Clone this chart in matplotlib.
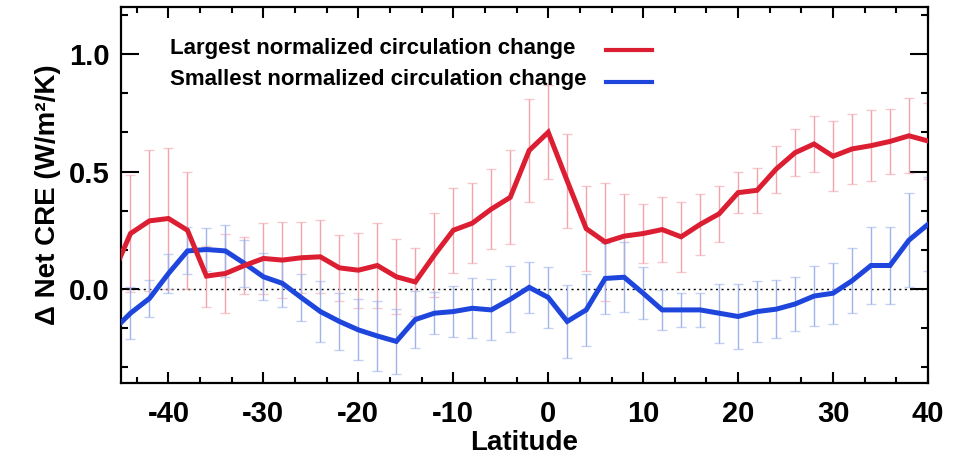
import matplotlib
matplotlib.use("Agg")
import matplotlib.pyplot as plt
from matplotlib.ticker import MultipleLocator

# latitude points (every 2 degrees, first point lies just outside the axis)
lats = list(range(-46, 41, 2))

largest = [0.05, 0.236, 0.29, 0.30, 0.25, 0.055, 0.066, 0.10, 0.13, 0.123, 0.133,
           0.137, 0.09, 0.08, 0.10, 0.052, 0.03, 0.144, 0.25, 0.28, 0.34, 0.39,
           0.59, 0.667, 0.46, 0.257, 0.20, 0.225, 0.236, 0.253, 0.222, 0.275,
           0.32, 0.41, 0.42, 0.51, 0.58, 0.617, 0.565, 0.596, 0.61, 0.628, 0.652, 0.63]
largest_err = [0.25, 0.25, 0.30, 0.30, 0.25, 0.13, 0.17, 0.12, 0.15, 0.16, 0.15,
               0.155, 0.14, 0.16, 0.18, 0.16, 0.145, 0.18, 0.18, 0.17, 0.17, 0.20,
               0.22, 0.20, 0.20, 0.18, 0.25, 0.18, 0.125, 0.14, 0.15, 0.13,
               0.12, 0.087, 0.095, 0.10, 0.10, 0.12, 0.15, 0.15, 0.15, 0.14, 0.16, 0.16]

smallest = [-0.183, -0.103, -0.04, 0.066, 0.162, 0.168, 0.162, 0.109, 0.052, 0.024, -0.037,
            -0.096, -0.138, -0.174, -0.20, -0.223, -0.13, -0.103, -0.096, -0.082, -0.089, -0.044,
            0.007, -0.036, -0.138, -0.089, 0.045, 0.05, -0.018, -0.089, -0.089, -0.089,
            -0.103, -0.117, -0.096, -0.086, -0.064, -0.03, -0.018, 0.035, 0.10, 0.10, 0.208, 0.275]
smallest_err = [0.11, 0.11, 0.08, 0.085, 0.10, 0.09, 0.11, 0.10, 0.10, 0.10, 0.10,
                0.13, 0.12, 0.13, 0.15, 0.14, 0.12, 0.09, 0.11, 0.127, 0.13, 0.14,
                0.11, 0.13, 0.155, 0.153, 0.15, 0.15, 0.11, 0.085, 0.073, 0.074,
                0.125, 0.14, 0.13, 0.124, 0.113, 0.127, 0.13, 0.138, 0.164, 0.164, 0.20, 0.20]

labels = ["Largest normalized circulation change", "Smallest normalized circulation change"]

RED = "#dc1e32"
BLUE = "#1e46dc"

plt.rcParams["font.family"] = ["Liberation Sans", "DejaVu Sans"]
plt.rcParams["font.weight"] = "bold"
plt.rcParams["axes.unicode_minus"] = False

fig = plt.figure(figsize=(9.55, 4.59), dpi=100)
ax = fig.add_axes([0.1267, 0.1656, 0.8450, 0.8191])

# error bars (light), then thick lines on top
for vals, errs, ecol in [(largest, largest_err, "#f2a3ab"), (smallest, smallest_err, "#9fb3ea")]:
    eb = ax.errorbar(lats, vals, yerr=errs, fmt="none", ecolor=ecol, elinewidth=1.0,
                     capsize=3.5, capthick=1.0, zorder=2)
    for cap in eb[1]:
        cap.set_color("#777777")
        cap.set_alpha(0.6)

ax.axhline(0, color="black", linestyle=(0, (1.5, 2.5)), linewidth=1.0, zorder=1)

ax.plot(lats, largest, color=RED, linewidth=3.6, solid_joinstyle="miter", zorder=4)
ax.plot(lats, smallest, color=BLUE, linewidth=3.6, solid_joinstyle="miter", zorder=3)

ax.set_xlim(-45, 40)
ax.set_ylim(-0.4, 1.2)
ax.xaxis.set_major_locator(MultipleLocator(10))
ax.xaxis.set_minor_locator(MultipleLocator(10 / 3))
ax.yaxis.set_minor_locator(MultipleLocator(0.5 / 3))
ax.set_yticks([0.0, 0.5, 1.0])
ax.yaxis.set_major_formatter(plt.FormatStrFormatter("%.1f"))

ax.tick_params(axis="both", which="both", direction="in", top=True, right=True,
               labelsize=21, width=1.5)
ax.tick_params(axis="x", which="major", length=8, pad=12)
ax.tick_params(axis="x", which="minor", length=4)
ax.tick_params(axis="y", which="major", length=13, pad=8)
ax.tick_params(axis="y", which="minor", length=5)
for lab in ax.get_xticklabels() + ax.get_yticklabels():
    lab.set_fontweight("bold")
for sp in ax.spines.values():
    sp.set_linewidth(1.6)

ax.set_xlabel("Latitude", fontsize=20, fontweight="bold", labelpad=2)
ax.set_ylabel("Δ Net CRE (W/m²/K)", fontsize=20, fontweight="bold", labelpad=6)

# legend: text on the left, line sample on the right
for i, (txt, col) in enumerate(zip(labels, [RED, BLUE])):
    ypos = 0.886 - i * 0.085
    ax.text(0.061, ypos + 0.005, txt, transform=ax.transAxes, fontsize=16,
            fontweight="bold", va="center", ha="left")
    ax.plot([0.601, 0.658], [ypos, ypos], transform=ax.transAxes, color=col,
            linewidth=3.0)

fig.savefig("out.png", dpi=100)
